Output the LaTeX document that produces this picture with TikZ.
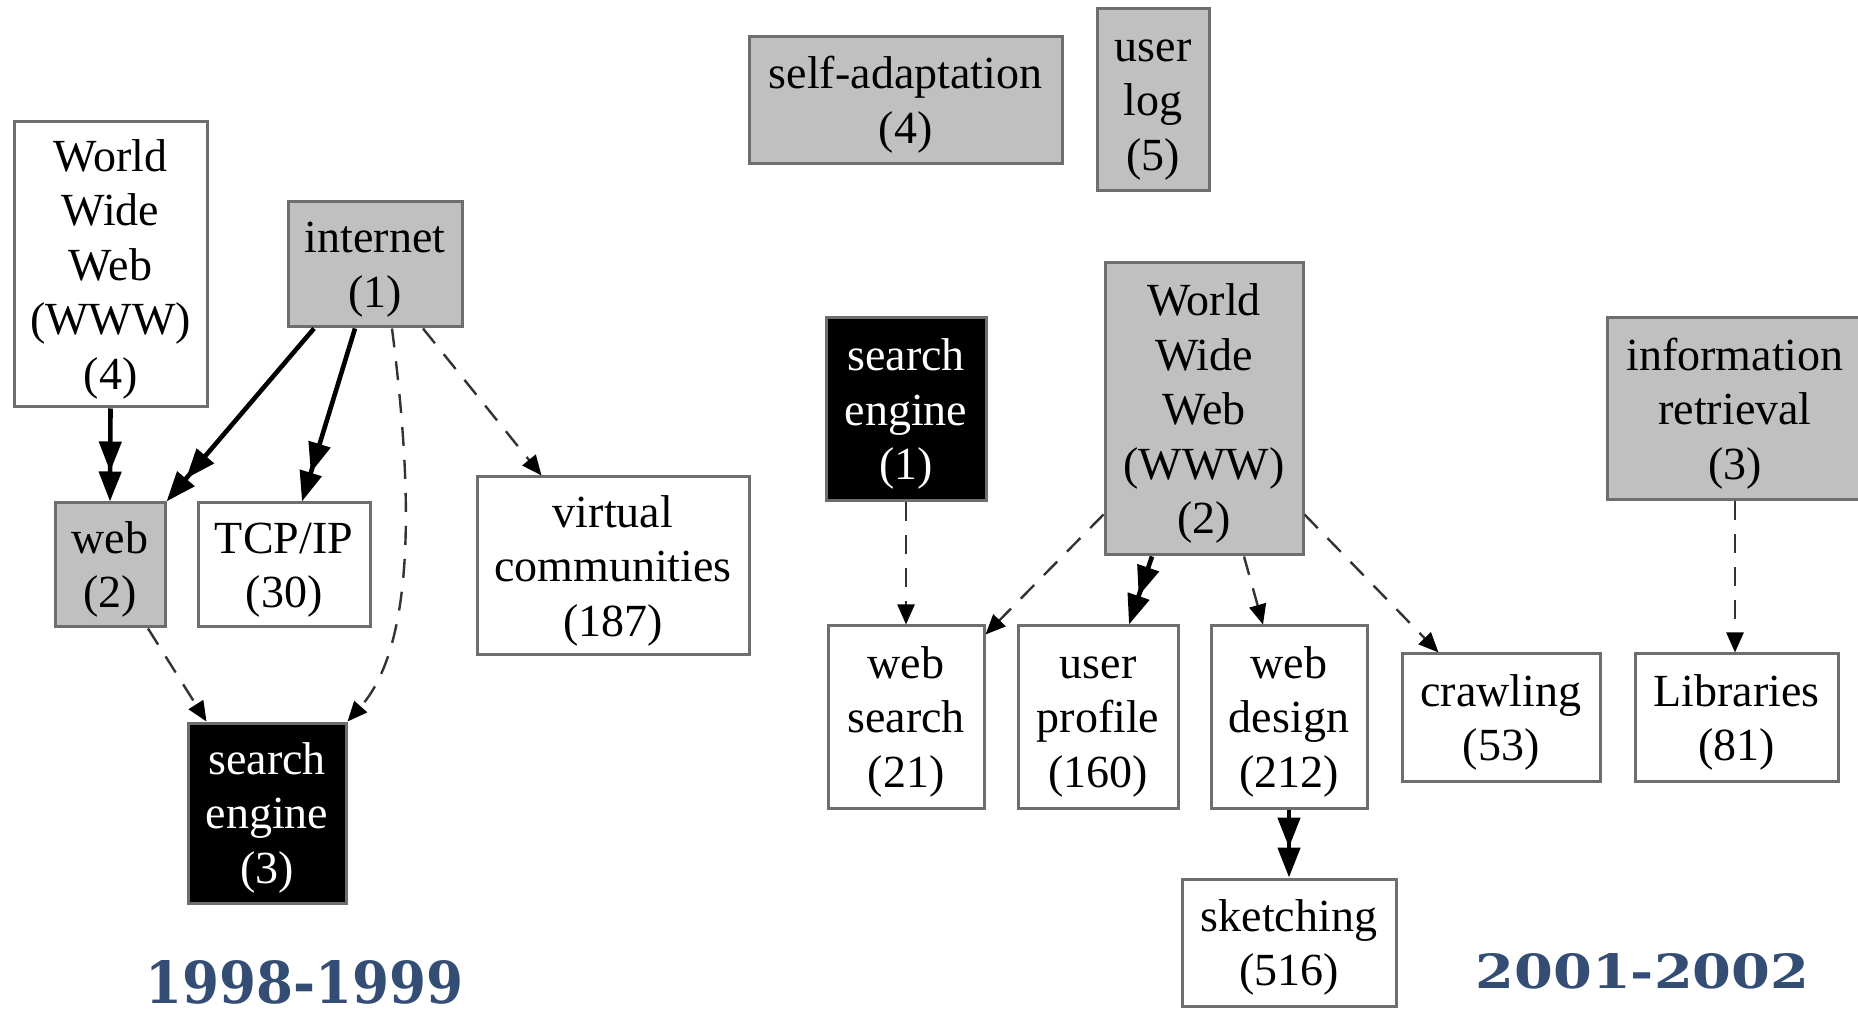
\documentclass[tikz,border=0pt]{standalone}
\usepackage{fontspec}
\usepackage{graphicx}
\setmainfont{Liberation Serif}
\newfontfamily\yearfont{DejaVu Serif}
\usetikzlibrary{arrows.meta,calc}
\definecolor{boxline}{HTML}{6E6E6E}
\definecolor{boxgray}{HTML}{C0C0C0}
\definecolor{yearblue}{HTML}{344D74}
% fixed line struts: every label block gets the same top and bottom extent
\newcommand\topstrut{\rule{0pt}{21.25pt}}
\newcommand\botstrut{\rule[-5.5pt]{0pt}{5.5pt}}
\tikzset{
  kw/.style={draw=boxline, line width=1.5pt, inner sep=0pt, align=center,
             font=\fontsize{23pt}{27.25pt}\selectfont},
  plain/.style={kw, fill=white},
  shaded/.style={kw, fill=boxgray},
  dark/.style={kw, fill=black, text=white},
  strong/.style={line width=2.3pt,
     -{Triangle[length=15pt,width=11pt,sep=0pt]Triangle[length=15pt,width=11pt,sep=0pt]}},
  weak/.style={line width=1.2pt, draw=black!80, dash pattern=on 9.5pt off 7pt,
     -{Triangle[length=10pt,width=8.5pt,color=black]}},
  year/.style={inner sep=0pt, anchor=south west, text=yearblue}
}
\begin{document}
\begin{tikzpicture}[x=0.5pt,y=-0.5pt]
\path[use as bounding box] (0,0) rectangle (1858,1015);
\clip (0,0) rectangle (1858,1015);

% ---- 1998-1999 graph ----
\node[plain,  minimum width=96.5pt, minimum height=142.5pt] (wwwA) at (110.5,264.5) {\topstrut World\\Wide\\Web\\(WWW)\\(4)\botstrut};
\node[shaded, minimum width=87pt,   minimum height=62.5pt]  (inet) at (375,264.5) {\topstrut internet\\(1)\botstrut};
\node[shaded, minimum width=55pt,   minimum height=62pt]    (webA) at (110,565) {\topstrut web\\(2)\botstrut};
\node[plain,  minimum width=86pt,   minimum height=62pt]    (tcp)  at (284,565) {\topstrut TCP/IP\\(30)\botstrut};
\node[plain,  minimum width=136pt,  minimum height=89pt]    (virt) at (613,566) {\topstrut virtual\\communities\\(187)\botstrut};
\node[dark,   minimum width=79pt,   minimum height=90pt]    (seA)  at (267,813) {\topstrut search\\engine\\(3)\botstrut};

\draw[strong] (wwwA.south) -- (webA.north);
\draw[strong] ($(inet.south)+(-61,0)$) -- (webA.north east);
\draw[strong] ($(inet.south)+(-20,0)$) -- ($(tcp.north)+(18,0)$);
\draw[weak] ($(inet.south)+(17,0)$) .. controls (410,470) and (420,640) .. (seA.north east);
\draw[weak] ($(inet.south)+(48,0)$) -- ($(virt.north west)+(66,0)$);
\draw[weak] ($(webA.south)+(38,0)$) -- ($(seA.north west)+(20,0)$);

\node[year] (yearA) at (145,1005) {\resizebox{159pt}{21.5pt}{\yearfont\bfseries 1998-1999}};

% ---- 2001-2002 graph ----
\node[shaded, minimum width=156.5pt, minimum height=63.5pt] (selfad) at (905.5,100.5) {\topstrut self-adaptation\\(4)\botstrut};
\node[shaded, minimum width=56pt,    minimum height=91pt]   (ulog)   at (1153,100) {\topstrut user\\log\\(5)\botstrut};
\node[dark,   minimum width=80pt,    minimum height=91.5pt] (seB)    at (906,409.5) {\topstrut search\\engine\\(1)\botstrut};
\node[shaded, minimum width=99pt,    minimum height=146pt]  (wwwB)   at (1204,409) {\topstrut World\\Wide\\Web\\(WWW)\\(2)\botstrut};
\node[shaded, minimum width=128pt,   minimum height=91pt]   (ir)     at (1735,409) {\topstrut information\\retrieval\\(3)\botstrut};
\node[plain,  minimum width=78pt,    minimum height=91pt]   (wsearch) at (906,717) {\topstrut web\\search\\(21)\botstrut};
\node[plain,  minimum width=80pt,    minimum height=91pt]   (uprof)  at (1098,717) {\topstrut user\\profile\\(160)\botstrut};
\node[plain,  minimum width=78pt,    minimum height=91pt]   (wdesign) at (1289,717) {\topstrut web\\design\\(212)\botstrut};
\node[plain,  minimum width=99pt,    minimum height=63.5pt] (crawl)  at (1501,717.5) {\topstrut crawling\\(53)\botstrut};
\node[plain,  minimum width=101.5pt, minimum height=63.5pt] (libs)   at (1736.5,717.5) {\topstrut Libraries\\(81)\botstrut};
\node[plain,  minimum width=107pt,   minimum height=63.5pt] (sketch) at (1289,942.5) {\topstrut sketching\\(516)\botstrut};

\draw[weak] (seB.south) -- (wsearch.north);
\draw[weak] ($(wwwB.south west)+(0,-42)$) -- ($(wsearch.north east)+(0,10)$);
\draw[strong] ($(wwwB.south)+(-52,0)$) -- ($(uprof.north)+(31,0)$);
\draw[weak] ($(wwwB.south)+(40,0)$) -- ($(wdesign.north)+(-26,0)$);
\draw[weak] ($(wwwB.south east)+(0,-42)$) -- ($(crawl.north west)+(38,0)$);
\draw[strong] (wdesign.south) -- (sketch.north);
\draw[weak] (ir.south) -- (ir.south |- libs.north);

\node[year] (yearB) at (1475,990) {\resizebox{167pt}{17.5pt}{\yearfont\bfseries 2001-2002}};
\end{tikzpicture}
\end{document}
